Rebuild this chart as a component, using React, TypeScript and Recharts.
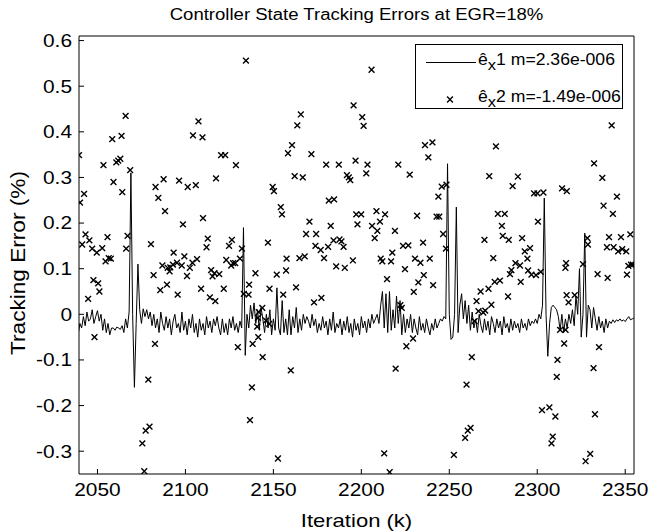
import React from 'react';
import { ComposedChart, Line, Scatter, XAxis, YAxis, Legend, Label } from 'recharts';

const FONT = '"Liberation Sans", Arial, sans-serif';
// the source image is stretched sideways a little, so text is widened to match
const STRETCH = 1.16;

const chartTitle = 'Controller State Tracking Errors at EGR=18%';
const xAxisTitle = 'Iteration (k)';
const yAxisTitle = 'Tracking Error (%)';
const xTicks = [2050, 2100, 2150, 2200, 2250, 2300, 2350];
const yTicks = [-0.3, -0.2, -0.1, 0, 0.1, 0.2, 0.3, 0.4, 0.5, 0.6];
const xDomain = [2039.5, 2355];
const yDomain = [-0.35, 0.61];

// legend text: ê_x1 / ê_x2 with their means
const legendItems = [
  { kind: 'line', rest: '1 m=2.36e-006' },
  { kind: 'x', rest: '2 m=-1.49e-006' },
];

// ê_x1: one value per iteration, starting at ex1Start
const ex1Start = 2039;
const ex1Values = [
  // 2039
  -0.045, -0.02, -0.03, -0.005, -0.025, 0.005, -0.015, -0.01, 0.01, -0.02,
  // 2049
  -0.005, 0.008, -0.015, 0.0, -0.035, -0.01, -0.04, -0.02, -0.045, -0.03,
  // 2059
  -0.03, -0.035, -0.028, -0.03, -0.033, -0.025, -0.04, -0.01, -0.03, 0.005,
  // 2069
  0.31, 0.0, -0.16, -0.02, 0.11, 0.01, -0.02, 0.012, -0.005, 0.01,
  // 2079
  -0.01, 0.005, -0.025, 0.0, -0.03, -0.01, -0.04, 0.005, -0.02, -0.035,
  // 2089
  -0.005, -0.03, -0.01, -0.045, -0.015, 0.0, -0.03, -0.02, -0.04, 0.005,
  // 2099
  -0.035, -0.015, -0.045, -0.01, -0.03, 0.0, -0.04, -0.02, -0.05, -0.01,
  // 2109
  -0.035, -0.02, -0.045, -0.005, -0.03, -0.015, -0.04, -0.01, -0.025, -0.005,
  // 2119
  -0.03, -0.045, -0.01, -0.04, -0.02, -0.045, -0.01, -0.03, -0.005, -0.035,
  // 2129
  -0.02, -0.04, -0.015, -0.03, 0.19, -0.09, 0.0, -0.03, 0.02, -0.01,
  // 2139
  0.025, -0.02, 0.01, -0.035, 0.015, -0.01, -0.04, 0.0, -0.03, 0.01,
  // 2149
  -0.045, -0.01, -0.035, 0.058, -0.03, -0.045, 0.03, -0.04, -0.01, -0.045,
  // 2159
  0.01, -0.045, -0.005, -0.03, 0.015, -0.04, -0.01, -0.035, 0.0, -0.02,
  // 2169
  -0.005, -0.015, -0.03, 0.0, -0.025, -0.01, -0.04, -0.02, -0.035, -0.005,
  // 2179
  -0.03, -0.015, -0.045, -0.01, -0.035, 0.005, -0.04, -0.02, -0.03, -0.01,
  // 2189
  -0.045, -0.015, -0.035, -0.005, -0.04, -0.02, -0.05, -0.01, -0.035, -0.02,
  // 2199
  -0.045, -0.005, -0.03, -0.015, -0.04, -0.01, -0.03, 0.0, -0.02, -0.01,
  // 2209
  0.0, -0.02, 0.02, 0.05, -0.03, 0.045, -0.04, 0.05, -0.035, 0.01,
  // 2219
  -0.03, 0.04, -0.02, 0.03, -0.045, 0.0, -0.04, -0.01, -0.03, 0.0,
  // 2229
  -0.04, -0.01, -0.03, -0.045, -0.005, -0.035, -0.02, -0.04, -0.01, -0.03,
  // 2239
  -0.045, -0.02, -0.035, -0.01, -0.03, -0.02, -0.01, -0.015, -0.005, -0.01,
  // 2249
  0.33, 0.0, -0.055, -0.05, 0.0, 0.235, -0.04, 0.02, 0.045, -0.01,
  // 2259
  0.03, -0.02, 0.02, -0.035, 0.005, -0.03, -0.01, -0.04, 0.0, -0.025,
  // 2269
  -0.04, -0.01, -0.035, -0.015, -0.045, -0.005, -0.02, -0.04, -0.01, -0.03,
  // 2279
  -0.015, -0.045, -0.005, -0.03, -0.02, -0.04, -0.01, -0.035, -0.015, -0.03,
  // 2289
  -0.02, -0.04, -0.01, -0.03, -0.02, -0.035, -0.01, -0.025, -0.015, -0.02,
  // 2299
  -0.01, -0.02, 0.0, -0.01, 0.02, 0.255, 0.0, -0.092, -0.02, 0.015,
  // 2309
  0.02, 0.015, 0.01, -0.005, -0.035, 0.0, -0.04, -0.01, -0.03, 0.0,
  // 2319
  -0.02, 0.01, -0.025, 0.04, 0.0, 0.1, -0.05, 0.0, 0.178, -0.05,
  // 2329
  0.02, 0.01, -0.03, 0.015, -0.01, -0.035, -0.005, -0.03, -0.015, -0.04,
  // 2339
  -0.01, -0.03, -0.015, -0.02, -0.012, -0.018, -0.012, -0.015, -0.01, -0.015,
  // 2349
  -0.012, -0.016, -0.01, -0.005, -0.012, -0.01, -0.008,
];

// ê_x2: the points that fall inside the plot window, [iteration, error]
const ex2Points: [number, number][] = [
  [2039.5, 0.349], [2040.1, 0.245], [2041.3, 0.153], [2042.4, 0.264], [2043.2, 0.175],
  [2044.7, 0.034], [2045.4, 0.162], [2047.0, 0.144], [2047.7, 0.075], [2048.3, -0.05],
  [2049.6, 0.135], [2050.4, 0.068], [2051.1, 0.05], [2052.7, 0.145], [2053.4, 0.327],
  [2054.6, 0.116], [2055.7, 0.169], [2056.4, 0.123], [2057.6, 0.122], [2058.4, 0.384],
  [2059.1, 0.29], [2060.7, 0.333], [2061.8, 0.337], [2063.0, 0.341], [2063.7, 0.391],
  [2064.1, 0.268], [2066.0, 0.435], [2066.3, 0.144], [2067.1, 0.172], [2068.6, 0.316],
  [2075.5, -0.283], [2076.6, -0.344], [2077.4, -0.255], [2078.9, -0.143], [2079.6, -0.246],
  [2080.4, 0.154], [2081.9, 0.086], [2082.7, -0.065], [2083.0, 0.279], [2084.6, 0.255],
  [2085.7, 0.053], [2086.9, 0.107], [2087.6, 0.296], [2088.4, 0.226], [2089.5, 0.065],
  [2089.9, 0.102], [2091.0, 0.094], [2091.4, 0.103], [2092.9, 0.109], [2093.3, 0.135],
  [2095.2, 0.113], [2095.6, 0.043], [2096.4, 0.293], [2097.9, 0.107], [2098.6, 0.197],
  [2099.4, 0.127], [2100.9, 0.084], [2101.3, 0.279], [2102.5, 0.102], [2104.0, 0.113],
  [2104.3, 0.392], [2105.9, 0.283], [2106.6, 0.121], [2107.4, 0.423], [2108.9, 0.056],
  [2109.7, 0.388], [2110.0, 0.211], [2112.0, 0.147], [2112.7, 0.166], [2113.9, 0.037],
  [2114.6, 0.097], [2115.4, 0.083], [2116.5, 0.09], [2117.0, 0.029], [2117.4, 0.298],
  [2119.2, 0.088], [2120.3, 0.349], [2121.8, 0.056], [2122.6, 0.349], [2123.2, 0.119],
  [2124.8, 0.15], [2126.0, 0.107], [2126.4, 0.163], [2127.1, 0.112], [2128.3, 0.112],
  [2128.7, 0.327], [2129.8, -0.072], [2131.0, 0.122], [2132.1, 0.144], [2133.2, 0.045],
  [2134.4, 0.556], [2135.9, 0.043], [2136.2, 0.065], [2136.7, -0.232], [2137.8, -0.16],
  [2138.2, -0.065], [2139.8, 0.09], [2140.8, -0.027], [2141.2, -0.008], [2141.4, -0.05],
  [2141.7, 0.005], [2143.7, 0.014], [2143.9, -0.094], [2145.8, -0.014], [2146.9, 0.157],
  [2147.6, -0.021], [2147.8, 0.056], [2149.6, 0.279], [2150.3, 0.27], [2151.9, 0.087],
  [2152.6, -0.316], [2154.2, 0.235], [2154.9, 0.219], [2155.6, 0.043], [2157.2, 0.096],
  [2157.5, 0.122], [2158.3, 0.353], [2159.9, -0.123], [2160.6, 0.371], [2162.1, 0.303],
  [2162.9, 0.059], [2163.6, 0.414], [2164.8, 0.123], [2165.6, 0.438], [2166.7, 0.3],
  [2167.8, 0.127], [2168.6, 0.176], [2170.5, 0.203], [2171.6, 0.351], [2173.1, 0.026],
  [2173.9, 0.15], [2174.3, 0.176], [2176.9, 0.141], [2177.3, 0.036], [2178.8, 0.123],
  [2180.0, 0.328], [2181.1, 0.148], [2181.5, 0.249], [2182.6, 0.194], [2184.2, 0.162],
  [2184.5, 0.252], [2185.7, 0.105], [2187.2, 0.328], [2187.6, 0.164], [2188.7, 0.16],
  [2189.9, 0.148], [2190.6, 0.102], [2191.8, 0.305], [2192.9, 0.3], [2193.7, 0.294],
  [2195.2, 0.118], [2195.6, 0.458], [2196.7, 0.337], [2197.1, 0.219], [2197.8, 0.197],
  [2199.9, 0.219], [2200.5, 0.432], [2201.3, 0.413], [2202.8, 0.309], [2203.5, 0.328],
  [2205.8, 0.536], [2206.1, 0.194], [2207.6, 0.167], [2208.6, 0.226], [2209.1, 0.183],
  [2210.6, 0.203], [2211.0, 0.122], [2211.9, 0.116], [2213.0, -0.305], [2213.5, 0.219],
  [2214.6, 0.077], [2216.1, -0.346], [2216.9, 0.116], [2217.6, 0.135], [2219.1, 0.183],
  [2219.5, -0.119], [2221.0, 0.328], [2222.2, 0.02], [2223.0, 0.014], [2223.7, 0.15],
  [2224.8, 0.099], [2225.6, -0.07], [2226.7, 0.151], [2227.5, 0.306], [2229.4, -0.053],
  [2229.8, 0.049], [2230.5, 0.122], [2231.7, 0.216], [2232.4, 0.07], [2233.6, 0.113],
  [2235.1, 0.157], [2235.5, 0.086], [2236.2, 0.371], [2238.1, 0.344], [2238.9, 0.122],
  [2240.4, 0.377], [2240.8, 0.064], [2242.8, 0.214], [2243.8, 0.258], [2244.3, 0.214],
  [2245.7, 0.28], [2246.5, 0.176], [2248.1, 0.144], [2248.4, 0.284], [2252.6, -0.308],
  [2259.0, -0.271], [2259.8, -0.154], [2260.5, -0.255], [2262.1, -0.249], [2262.8, -0.094],
  [2264.4, -0.015], [2265.5, 0.029], [2266.6, 0.007], [2267.8, 0.05], [2269.3, 0.004],
  [2270.0, 0.163], [2270.4, 0.008], [2272.3, 0.056], [2272.7, 0.303], [2273.9, 0.021],
  [2275.0, 0.123], [2275.8, 0.071], [2276.5, 0.368], [2277.6, 0.22], [2278.8, 0.074],
  [2279.9, 0.194], [2280.4, 0.172], [2281.5, 0.22], [2283.4, 0.039], [2283.8, 0.163],
  [2284.5, 0.088], [2285.3, 0.097], [2286.0, 0.281], [2287.6, 0.112], [2289.0, 0.302],
  [2290.2, 0.107], [2290.6, 0.071], [2291.4, 0.167], [2292.9, 0.138], [2294.4, 0.122],
  [2294.8, 0.096], [2295.9, 0.145], [2296.7, 0.087], [2298.2, 0.265], [2299.3, 0.086],
  [2300.1, 0.265], [2300.4, 0.203], [2302.0, 0.093], [2302.7, -0.21], [2303.5, 0.267],
  [2306.9, -0.204], [2308.1, -0.283], [2308.8, -0.268], [2310.3, -0.224], [2311.1, -0.137],
  [2311.5, -0.1], [2313.0, -0.034], [2314.1, 0.276], [2315.3, -0.064], [2316.0, 0.102],
  [2316.1, -0.034], [2316.4, 0.112], [2316.7, 0.042], [2316.8, 0.27], [2317.8, 0.026],
  [2321.3, 0.042], [2326.0, 0.11], [2327.5, -0.322], [2328.5, 0.167], [2328.8, 0.153],
  [2330.1, -0.306], [2332.0, -0.118], [2332.3, 0.331], [2332.8, -0.219], [2334.3, 0.088],
  [2335.1, -0.072], [2337.0, 0.299], [2337.7, 0.238], [2339.6, 0.147], [2340.0, 0.08],
  [2340.8, 0.169], [2342.3, 0.414], [2343.0, 0.22], [2343.4, 0.147], [2345.3, 0.258],
  [2346.0, 0.138], [2347.6, 0.169], [2348.3, 0.143], [2350.6, 0.138], [2351.0, 0.087],
  [2351.8, 0.106], [2352.9, 0.175], [2353.3, 0.109], [2354.4, 0.109],
];

const ex1Rows = ex1Values.map((e1, i) => ({ k: ex1Start + i, e1 }));
const ex2Rows = ex2Points.map(([k, e2]) => ({ k, e2 }));

const XMark = (props: any) => {
  const { cx, cy } = props;
  if (cx == null || cy == null) return null;
  const r = 2.9;
  return (
    <path
      d={`M${cx - r},${cy - r}L${cx + r},${cy + r}M${cx - r},${cy + r}L${cx + r},${cy - r}`}
      stroke="#000"
      strokeWidth={1.4}
      fill="none"
    />
  );
};

// text drawn at (x, y) and widened by STRETCH
const WideText = ({ x, y, size, anchor, dy, rotate, children }: any) => (
  <text
    transform={`translate(${x},${y})${rotate ? ` rotate(${rotate})` : ''} scale(${STRETCH},1)`}
    textAnchor={anchor}
    dy={dy}
    fontSize={size}
    fontFamily={FONT}
    fill="#000"
  >
    {children}
  </text>
);

const fmtY = (v: number) => (v === 0 ? '0' : v.toFixed(1));

const XTick = (p: any) => (
  <WideText x={p.x} y={p.y} size={18} anchor="middle" dy="0.71em">
    {p.payload.value}
  </WideText>
);

const YTick = (p: any) => (
  <WideText x={p.x} y={p.y} size={18} anchor="end" dy="0.355em">
    {fmtY(p.payload.value)}
  </WideText>
);

const LegendBox = () => (
  <div
    style={{
      position: 'relative',
      width: 206,
      height: 63,
      border: '1px solid #000',
      background: '#fff',
      fontFamily: FONT,
      fontSize: 16,
      color: '#000',
    }}
  >
    {legendItems.map((item, i) => (
      <div
        key={item.rest}
        style={{
          position: 'absolute',
          left: 0,
          top: i === 0 ? 5 : 42,
          height: 20,
          display: 'flex',
          alignItems: 'flex-start',
          lineHeight: '20px',
          whiteSpace: 'nowrap',
        }}
      >
        <svg width={62} height={20} style={{ display: 'block' }}>
          {item.kind === 'line' ? (
            <line x1={10} x2={60} y1={12.5} y2={12.5} stroke="#000" strokeWidth={1} />
          ) : (
            <XMark cx={34} cy={12.5} />
          )}
        </svg>
        <span style={{ display: 'inline-block', transform: 'scaleX(1.1)', transformOrigin: 'left center' }}>
          ê<span style={{ position: 'relative', top: 5, fontSize: 15 }}>x</span>
          {item.rest}
        </span>
      </div>
    ))}
  </div>
);

export default function App() {
  return (
    <div style={{ position: 'fixed', left: 0, top: 0, width: 649, height: 531, background: '#fff' }}>
      <ComposedChart
        width={649}
        height={531}
        data={ex1Rows}
        margin={{ top: 35, right: 14, bottom: 0, left: 0 }}
        style={{ fontFamily: FONT }}
      >
        <XAxis
          dataKey="k"
          type="number"
          domain={xDomain}
          ticks={xTicks}
          allowDataOverflow
          height={57}
          tickSize={-5}
          tickMargin={14}
          tick={XTick}
          stroke="#000"
        >
          <Label
            content={(p: any) => {
              const vb = p.viewBox || {};
              return (
                <WideText x={vb.x + vb.width / 2} y={vb.y + vb.height - 4} size={19} anchor="middle">
                  {xAxisTitle}
                </WideText>
              );
            }}
          />
        </XAxis>
        <XAxis
          xAxisId="top"
          orientation="top"
          type="number"
          domain={xDomain}
          ticks={xTicks}
          allowDataOverflow
          height={1}
          tickSize={-5}
          tick={false}
          stroke="#000"
        >
          <Label
            content={(p: any) => {
              const vb = p.viewBox || {};
              return (
                <WideText x={vb.x + vb.width / 2} y={vb.y - 15} size={16} anchor="middle">
                  {chartTitle}
                </WideText>
              );
            }}
          />
        </XAxis>
        <YAxis
          type="number"
          domain={yDomain}
          ticks={yTicks}
          allowDataOverflow
          width={79}
          tickSize={-5}
          tickMargin={12}
          tick={YTick}
          stroke="#000"
        >
          <Label
            content={(p: any) => {
              const vb = p.viewBox || {};
              return (
                <WideText x={vb.x + 18} y={vb.y + vb.height / 2 + 8} size={19.5} anchor="middle" dy="0.355em" rotate={-90}>
                  {yAxisTitle}
                </WideText>
              );
            }}
          />
        </YAxis>
        <YAxis
          yAxisId="right"
          orientation="right"
          type="number"
          domain={yDomain}
          ticks={yTicks}
          allowDataOverflow
          width={1}
          tickSize={-5}
          tick={false}
          stroke="#000"
        />
        <Legend
          layout="vertical"
          align="center"
          verticalAlign="middle"
          content={() => <LegendBox />}
          wrapperStyle={{ position: 'absolute', left: 415, top: 44, width: 208, height: 65 }}
        />
        <Line
          dataKey="e1"
          type="linear"
          stroke="#000"
          strokeWidth={1}
          dot={false}
          activeDot={false}
          isAnimationActive={false}
        />
        <Scatter data={ex2Rows} dataKey="e2" shape={<XMark />} isAnimationActive={false} />
      </ComposedChart>
    </div>
  );
}
